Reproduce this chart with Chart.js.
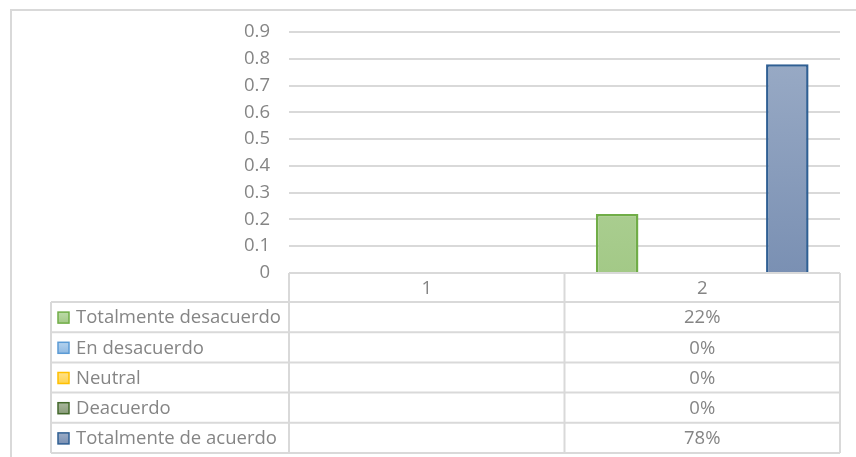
<!DOCTYPE html>
<html>
<head>
<meta charset="utf-8">
<script src="https://cdn.jsdelivr.net/npm/chart.js@4"></script>
<style>
    html, body { margin: 0; padding: 0; background: #fff; }
    #wrap { width: 856px; height: 457px; }
</style>
</head>
<body>
<div id="wrap"><canvas id="chart" width="856" height="457"></canvas></div>
<script>
let categories = ['1', '2'];
let seriesNames = ['Totalmente desacuerdo', 'En desacuerdo', 'Neutral', 'Deacuerdo', 'Totalmente de acuerdo'];
let totalmenteDesacuerdo = [null, 0.22];
let enDesacuerdo = [null, 0];
let neutral = [null, 0];
let deacuerdo = [null, 0];
let totalmenteDeAcuerdo = [null, 0.78];
let yTicks = [0, 0.1, 0.2, 0.3, 0.4, 0.5, 0.6, 0.7, 0.8, 0.9];

// fill top, fill bottom, border
let colors = [
    ['#bcdaa8', '#a3c987', '#70ad47'],
    ['#b4d2ee', '#8fb9e2', '#5b9bd5'],
    ['#ffe28a', '#ffd24d', '#ffc000'],
    ['#a9b79d', '#8a9c7a', '#43682b'],
    ['#9cadc7', '#7a90b3', '#2f5f93']
];

let textColor = '#858585';
let lineColor = '#d9d9d9';
let fontFamily = '"Open Sans", "Noto Sans", sans-serif';
let fontSize = 18.5;

let gradientFor = function (ctx, idx) {
    let area = ctx.chart.chartArea;
    if (!area) return colors[idx][1];
    let g = ctx.chart.ctx.createLinearGradient(0, area.top, 0, area.bottom);
    g.addColorStop(0, colors[idx][0]);
    g.addColorStop(1, colors[idx][1]);
    return g;
};

let seriesData = [totalmenteDesacuerdo, enDesacuerdo, neutral, deacuerdo, totalmenteDeAcuerdo];
let datasets = seriesData.map(function (values, i) {
    return {
        label: seriesNames[i],
        data: values,
        backgroundColor: function (ctx) { return gradientFor(ctx, i); },
        borderColor: colors[i][2],
        borderWidth: 2.5,
        borderSkipped: 'bottom',
        barPercentage: 1.0,
        categoryPercentage: 0.772
    };
});

// frame round the whole chart
let framePlugin = {
    id: 'frame',
    beforeDraw: function (chart) {
        let c = chart.ctx;
        c.save();
        c.strokeStyle = '#d9d9d9';
        c.lineWidth = 2;
        c.beginPath();
        c.moveTo(11, 457);
        c.lineTo(11, 10);
        c.lineTo(856, 10);
        c.stroke();
        c.restore();
    }
};

// data table under the plot, lined up with the x scale
let tablePlugin = {
    id: 'dataTable',
    afterDraw: function (chart) {
        let c = chart.ctx;
        let area = chart.chartArea;
        let x = chart.scales.x;
        let left = area.left, right = area.right;
        let tableLeft = 51;
        let headTop = area.bottom;
        let headH = 29;
        let rowH = 30.2;
        let n = categories.length;
        let catW = (right - left) / n;
        let bottom = headTop + headH + rowH * seriesNames.length;

        c.save();
        c.strokeStyle = lineColor;
        c.lineWidth = 2;
        c.beginPath();
        // header row
        c.moveTo(left, headTop);
        c.lineTo(right, headTop);
        for (let r = 0; r <= seriesNames.length; r++) {
            let y = headTop + headH + r * rowH;
            c.moveTo(tableLeft, y);
            c.lineTo(right, y);
        }
        c.moveTo(tableLeft, headTop + headH);
        c.lineTo(tableLeft, bottom);
        for (let k = 0; k <= n; k++) {
            let xx = left + k * catW;
            c.moveTo(xx, headTop);
            c.lineTo(xx, bottom);
        }
        c.stroke();

        c.fillStyle = textColor;
        c.font = fontSize + 'px ' + fontFamily;
        c.textBaseline = 'middle';
        c.textAlign = 'center';
        categories.forEach(function (cat, k) {
            c.fillText(cat, x.getPixelForValue(k), headTop + headH / 2 + 1);
        });

        seriesNames.forEach(function (name, r) {
            let yMid = headTop + headH + r * rowH + rowH / 2 + 1;
            // legend key
            let sx = 58, sy = yMid - 6, s = 11;
            let g = c.createLinearGradient(0, sy, 0, sy + s);
            g.addColorStop(0, colors[r][0]);
            g.addColorStop(1, colors[r][1]);
            c.fillStyle = g;
            c.fillRect(sx, sy, s, s);
            c.strokeStyle = colors[r][2];
            c.lineWidth = 1.5;
            c.strokeRect(sx, sy, s, s);

            c.fillStyle = textColor;
            c.textAlign = 'left';
            c.fillText(name, 76, yMid);

            c.textAlign = 'center';
            seriesData[r].forEach(function (v, k) {
                if (v === null) return;
                c.fillText(Math.round(v * 100) + '%', x.getPixelForValue(k), yMid);
            });
        });
        c.restore();
    }
};

let ctx = document.getElementById('chart').getContext('2d');
let myChart = new Chart(ctx, {
    type: 'bar',
    data: {
        labels: categories,
        datasets: datasets
    },
    plugins: [framePlugin, tablePlugin],
    options: {
        responsive: false,
        animation: false,
        layout: {
            padding: { top: 32, right: 16, bottom: 184, left: 0 }
        },
        plugins: {
            legend: { display: false },
            tooltip: { enabled: false }
        },
        scales: {
            x: {
                display: false,
                grid: { display: false }
            },
            y: {
                min: 0,
                max: 0.9,
                afterFit: function (scale) { scale.width = 289; },
                afterBuildTicks: function (scale) {
                    scale.ticks = yTicks.map(function (v) { return { value: v }; });
                },
                border: { display: false },
                grid: {
                    color: lineColor,
                    lineWidth: 2,
                    drawTicks: false
                },
                ticks: {
                    padding: 19,
                    color: textColor,
                    font: { family: fontFamily, size: fontSize },
                    callback: function (v) { return String(Math.round(v * 10) / 10); }
                }
            }
        }
    }
});
</script>
</body>
</html>
